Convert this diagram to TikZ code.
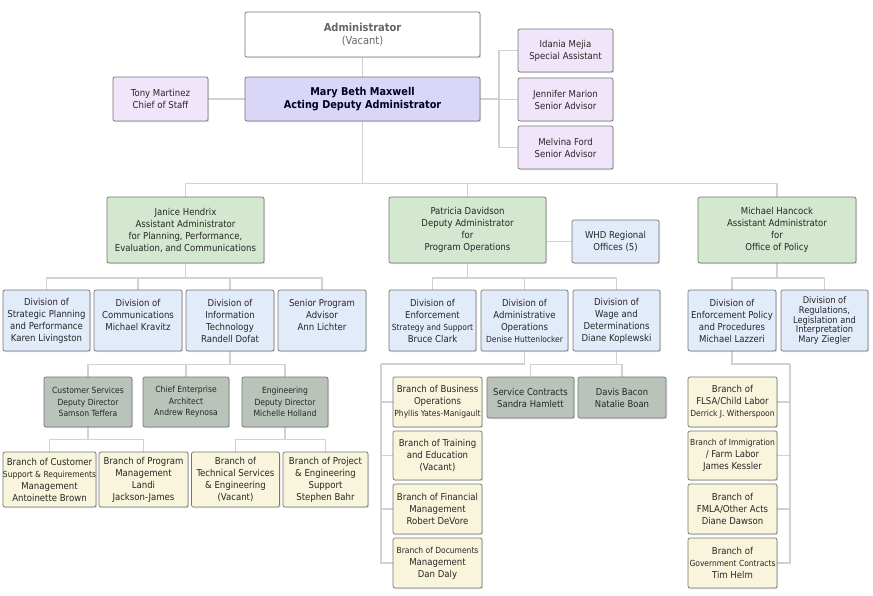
\documentclass[tikz,border=0pt]{standalone}
\usepackage{fontspec}
\setmainfont{DejaVu Sans Condensed}
\usetikzlibrary{shadows,backgrounds}
\definecolor{cline}{HTML}{D2D2D2}
\definecolor{cborder}{HTML}{757575}
\definecolor{ctext}{HTML}{262626}
\definecolor{cgrayt}{HTML}{666666}
\definecolor{cmbm}{HTML}{DAD6F7}
\definecolor{cpurple}{HTML}{F1E5FA}
\definecolor{cgreen}{HTML}{D3E8CF}
\definecolor{cblue}{HTML}{E2EBF9}
\definecolor{cgray}{HTML}{B9C3B9}
\definecolor{cyellow}{HTML}{F9F5DC}
\newcommand{\smalline}[1]{{\fontsize{8.4}{12}\selectfont #1}}
\begin{document}
\begin{tikzpicture}[x=1pt,y=-1pt,
  box/.style={draw=cborder, line width=0.7pt, rounded corners=2pt, align=center,
    inner sep=0pt, text=ctext, font=\fontsize{9.5}{12}\selectfont,
    drop shadow={shadow xshift=1.2pt, shadow yshift=-1.2pt, opacity=0.22}},
  wh/.style 2 args={minimum width=#1pt, minimum height=#2pt},
  adminbox/.style={box, fill=white, text=cgrayt, font=\fontsize{11}{12.5}\selectfont},
  mbmbox/.style={box, fill=cmbm, text=black!85!blue, font=\fontsize{10.8}{13}\selectfont\bfseries},
  purplebox/.style={box, fill=cpurple},
  greenbox/.style={box, fill=cgreen},
  bluebox/.style={box, fill=cblue},
  graybox/.style={box, fill=cgray, font=\fontsize{8.5}{11.5}\selectfont},
  yellowbox/.style={box, fill=cyellow},
  conn/.style={draw=cline, line width=1.6pt}
]
\begin{scope}[on background layer]
\fill[white] (0,0) rectangle (873,595);
\end{scope}
\useasboundingbox (0,0) rectangle (873,595);

% ---------- top level ----------
\node[adminbox, wh={235}{45}] (admin) at (362.5,34.5) {{\bfseries Administrator}\\(Vacant)};
\node[mbmbox, wh={235}{44}] (mbm) at (362.5,99) {Mary Beth Maxwell\\Acting Deputy Administrator};
\node[purplebox, wh={95}{44}] (tony) at (160.5,99) {Tony Martinez\\Chief of Staff};
\node[purplebox, wh={95}{43}] (idania) at (565.5,50.5) {Idania Mejia\\Special Assistant};
\node[purplebox, wh={95}{43}] (jennifer) at (565.5,99.5) {Jennifer Marion\\Senior Advisor};
\node[purplebox, wh={95}{43}] (melvina) at (565.5,147.5) {Melvina Ford\\Senior Advisor};

% ---------- second level ----------
\node[greenbox, wh={157}{66}] (janice) at (185.5,230) {Janice Hendrix\\Assistant Administrator\\for Planning, Performance,\\Evaluation, and Communications};
\node[greenbox, wh={157}{66}] (patricia) at (467.5,230) {Patricia Davidson\\Deputy Administrator\\for\\Program Operations};
\node[bluebox, wh={87}{43}] (whd) at (615.5,241.5) {WHD Regional\\Offices (5)};
\node[greenbox, wh={158}{66}] (hancock) at (777,230) {Michael Hancock\\Assistant Administrator\\for\\Office of Policy};

% ---------- divisions ----------
\node[bluebox, wh={87}{61}] (div1) at (46.5,320.5) {Division of\\Strategic Planning\\and Performance\\Karen Livingston};
\node[bluebox, wh={88}{61}] (div2) at (138,320.5) {Division of\\Communications\\Michael Kravitz\\\mbox{}};
\node[bluebox, wh={88}{61}] (div3) at (230,320.5) {Division of\\Information\\Technology\\Randell Dofat};
\node[bluebox, wh={88}{61}] (div4) at (322,320.5) {Senior Program\\Advisor\\Ann Lichter\\\mbox{}};
\node[bluebox, wh={87}{61}] (div5) at (432.5,320.5) {Division of\\Enforcement\\\smalline{Strategy and Support}\\Bruce Clark};
\node[bluebox, wh={87}{61}] (div6) at (524.5,320.5) {Division of\\Administrative\\Operations\\\smalline{Denise Huttenlocker}};
\node[bluebox, wh={87}{61}] (div7) at (616.5,320.5) {Division of\\Wage and\\Determinations\\Diane Koplewski};
\node[bluebox, wh={88}{61}] (div8) at (732,320.5) {Division of\\Enforcement Policy\\and Procedures\\Michael Lazzeri};
\node[bluebox, wh={87}{61}, font=\fontsize{9.2}{9.8}\selectfont] (div9) at (824.5,320.5) {Division of\\Regulations,\\Legislation and\\Interpretation\\Mary Ziegler};

% ---------- IT sub units ----------
\node[graybox, wh={88}{50}] (cs) at (88,402) {Customer Services\\Deputy Director\\Samson Teffera};
\node[graybox, wh={86}{50}] (cea) at (186,402) {Chief Enterprise\\Architect\\Andrew Reynosa};
\node[graybox, wh={86}{50}] (eng) at (285,402) {Engineering\\Deputy Director\\Michelle Holland};

\node[yellowbox, wh={93}{55}] (b1) at (49.5,479.5) {Branch of Customer\\\smalline{Support \& Requirements}\\Management\\Antoinette Brown};
\node[yellowbox, wh={89}{55}] (b2) at (143.5,479.5) {Branch of Program\\Management\\Landi\\Jackson-James};
\node[yellowbox, wh={88}{55}] (b3) at (235.5,479.5) {Branch of\\Technical Services\\\& Engineering\\(Vacant)};
\node[yellowbox, wh={85}{55}] (b4) at (325.5,479.5) {Branch of Project\\\& Engineering\\Support\\Stephen Bahr};

% ---------- Administrative operations branches ----------
\node[yellowbox, wh={89}{50}] (p1) at (437.5,402) {Branch of Business\\Operations\\\smalline{Phyllis Yates-Manigault}};
\node[yellowbox, wh={89}{49}] (p2) at (437.5,455.5) {Branch of Training\\and Education\\(Vacant)};
\node[yellowbox, wh={89}{50}] (p3) at (437.5,509) {Branch of Financial\\Management\\Robert DeVore};
\node[yellowbox, wh={89}{50}] (p4) at (437.5,563) {\smalline{Branch of Documents}\\Management\\Dan Daly};

% ---------- Wage and determinations ----------
\node[graybox, wh={87}{41}, font=\fontsize{9.4}{12}\selectfont] (sc) at (530.5,397.5) {Service Contracts\\Sandra Hamlett};
\node[graybox, wh={88}{41}, font=\fontsize{9.4}{12}\selectfont] (db) at (622,397.5) {Davis Bacon\\Natalie Boan};

% ---------- Enforcement policy branches ----------
\node[yellowbox, wh={89}{50}] (h1) at (732.5,402) {Branch of\\FLSA/Child Labor\\\smalline{Derrick J. Witherspoon}};
\node[yellowbox, wh={89}{49}] (h2) at (732.5,455.5) {\smalline{Branch of Immigration}\\/ Farm Labor\\James Kessler};
\node[yellowbox, wh={89}{50}] (h3) at (732.5,509) {Branch of\\FMLA/Other Acts\\Diane Dawson};
\node[yellowbox, wh={89}{50}] (h4) at (732.5,563) {Branch of\\\smalline{Government Contracts}\\Tim Helm};

% ---------- connectors ----------
\coordinate (abus) at (499,99);
\coordinate (pcol) at (381,364);
\coordinate (hcol) at (790,364);
\begin{scope}[on background layer]
\draw[conn] (admin.south) -- (mbm.north);
\draw[conn] (tony.east) -- (mbm.west);
\draw[conn] (mbm.east) -- (abus);
\draw[conn] (abus) |- (idania.west);
\draw[conn] (abus) |- (jennifer.west);
\draw[conn] (abus) |- (melvina.west);
\draw[conn] (mbm.south) -- ++(0,62) -| (janice.north);
\draw[conn] (mbm.south) -- ++(0,62) -| (patricia.north);
\draw[conn] (mbm.south) -- ++(0,62) -| (hancock.north);
\draw[conn] (patricia.east |- whd.west) -- (whd.west);
\foreach \d in {div1,div2,div3,div4}
  \draw[conn] (janice.south) -- ++(0,14.5) -| (\d.north);
\foreach \d in {div5,div6,div7}
  \draw[conn] (patricia.south) -- ++(0,14.5) -| (\d.north);
\foreach \d in {div8,div9}
  \draw[conn] (hancock.south) -- ++(0,14.5) -| (\d.north);
\foreach \d in {cs,cea,eng}
  \draw[conn] (div3.south) -- ++(0,13) -| (\d.north);
\foreach \d in {b1,b2}
  \draw[conn] (cs.south) -- ++(0,12) -| (\d.north);
\foreach \d in {b3,b4}
  \draw[conn] (eng.south) -- ++(0,12) -| (\d.north);
\draw[conn] (div6.south) |- (pcol);
\foreach \d in {p1,p2,p3,p4}
  \draw[conn] (pcol) |- (\d.west);
\foreach \d in {sc,db}
  \draw[conn] (div7.south) -- ++(0,13) -| (\d.north);
\draw[conn] (div8.south) |- (hcol);
\foreach \d in {h1,h2,h3,h4}
  \draw[conn] (hcol) |- (\d.east);
\end{scope}
\end{tikzpicture}
\end{document}
